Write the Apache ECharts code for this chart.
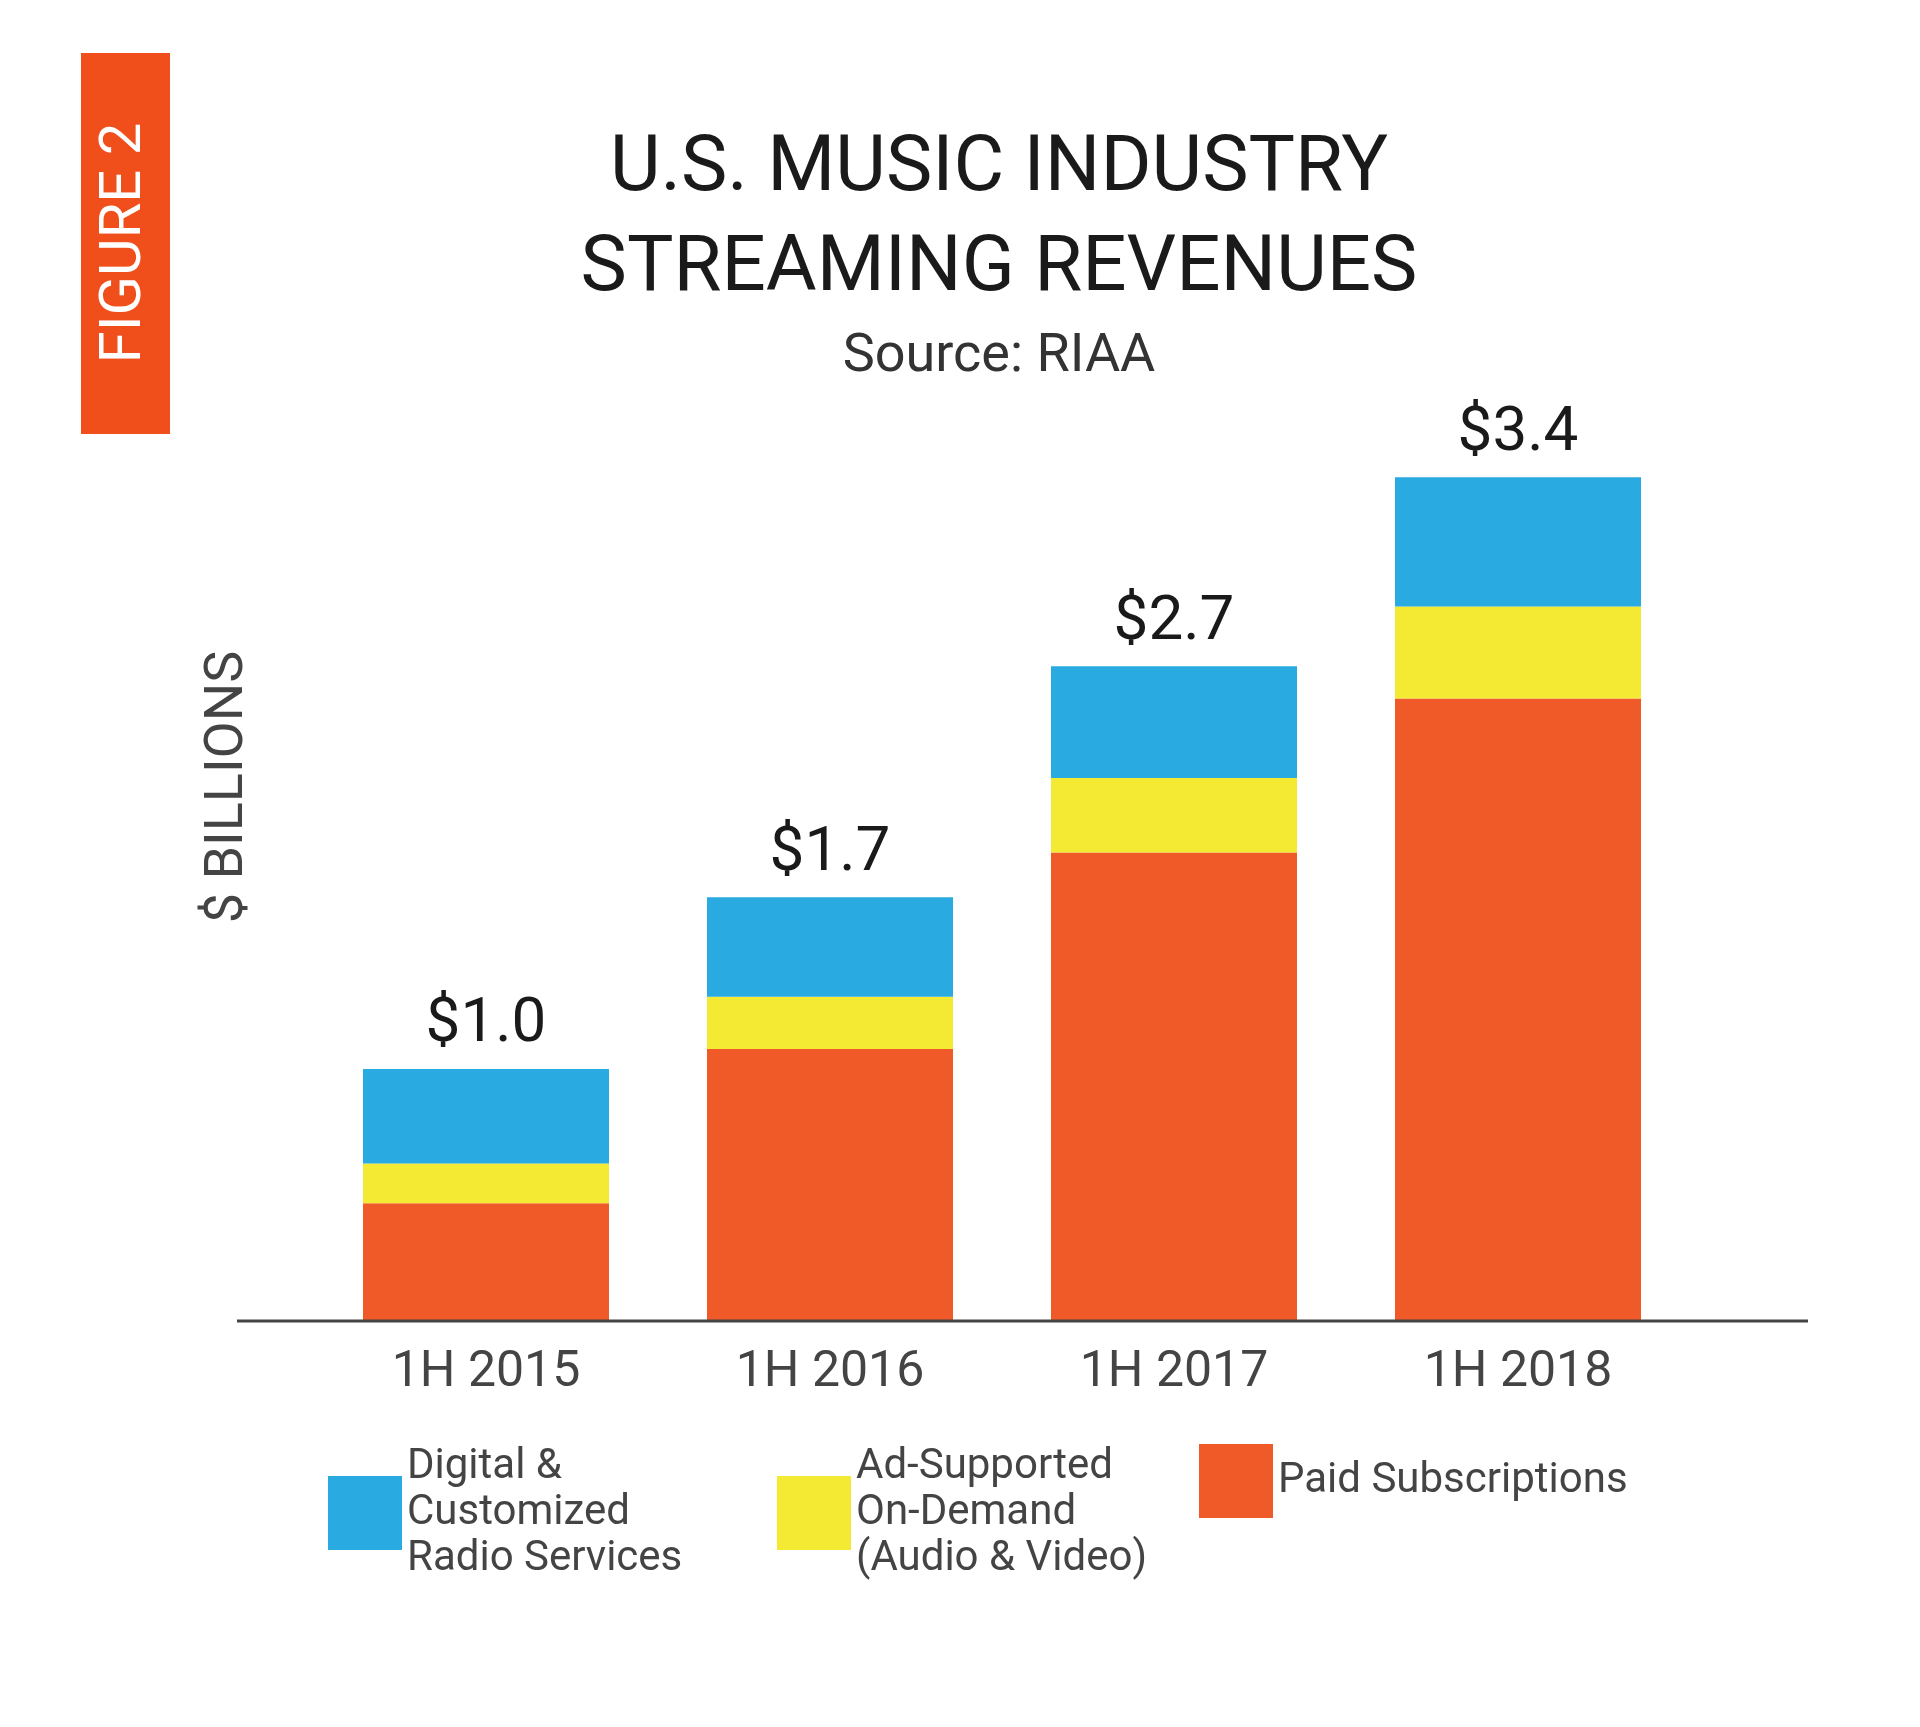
<!DOCTYPE html><html><head><meta charset="utf-8"><script src="https://cdn.jsdelivr.net/npm/echarts@6/dist/echarts.min.js"></script>
<style>html,body{margin:0;background:#fff}#c{width:1920px;height:1727px}</style></head><body><div id="c"></div><script>
const categories=['1H 2015','1H 2016','1H 2017','1H 2018'];
const paid=[0.47,1.09,1.88,2.50];
const adSupported=[0.16,0.21,0.30,0.37];
const radio=[0.38,0.40,0.45,0.52];
const totalLabels=['$1.0','$1.7','$2.7','$3.4'];
const F='Roboto, sans-serif';
const chart=echarts.init(document.getElementById('c'));
const legBase={orient:'vertical',itemWidth:74,itemHeight:74,icon:'rect',textStyle:{fontFamily:F,fontSize:42,color:'#444',lineHeight:46},selectedMode:false};
chart.setOption({
 animation:false,
 title:[{text:'U.S. MUSIC INDUSTRY\nSTREAMING REVENUES',left:994,textAlign:'center',top:115,textStyle:{fontFamily:F,fontSize:78,fontWeight:'normal',color:'#1a1a1a',lineHeight:100}},
  {text:'Source: RIAA',left:994,textAlign:'center',top:325,textStyle:{fontFamily:F,fontSize:54,fontWeight:'normal',color:'#333'}}],
 grid:{left:314,right:230,top:425,bottom:407},
 xAxis:{type:'category',data:categories,axisLine:{show:false},axisTick:{show:false},axisLabel:{fontFamily:F,fontSize:50,color:'#444',margin:28}},
 yAxis:{type:'value',min:0,max:3.6,show:false},
 legend:[
  Object.assign({data:['Digital &\nCustomized\nRadio Services'],left:323,top:1439},legBase),
  Object.assign({data:['Ad-Supported\nOn-Demand\n(Audio & Video)'],left:772,top:1439},legBase),
  Object.assign({data:['Paid Subscriptions'],left:1194,top:1439},legBase)],
 graphic:[
  {type:'rect',shape:{x:81,y:53,width:89,height:381},style:{fill:'#f04e1a'}},
  {type:'text',x:125,y:243,rotation:Math.PI/2,style:{text:'FIGURE 2',fill:'#fff',font:'58px '+F,textAlign:'center',textVerticalAlign:'middle'}},
  {type:'text',x:228,y:787,rotation:Math.PI/2,style:{text:'$ BILLIONS',fill:'#444',font:'54px '+F,textAlign:'center',textVerticalAlign:'middle'}},
  {type:'line',shape:{x1:237,y1:1321,x2:1808,y2:1321},style:{stroke:'#444',lineWidth:3},z:10}
 ],
 series:[
  {name:'Paid Subscriptions',type:'bar',stack:'s',data:paid,barWidth:246,itemStyle:{color:'#f05a28'}},
  {name:'Ad-Supported\nOn-Demand\n(Audio & Video)',type:'bar',stack:'s',data:adSupported,itemStyle:{color:'#f5ea33'}},
  {name:'Digital &\nCustomized\nRadio Services',type:'bar',stack:'s',data:radio,itemStyle:{color:'#29abe2'},
   label:{show:true,position:'top',distance:12,fontFamily:F,fontSize:62,color:'#1a1a1a',formatter:p=>totalLabels[p.dataIndex]}}
 ]
});
</script></body></html>
